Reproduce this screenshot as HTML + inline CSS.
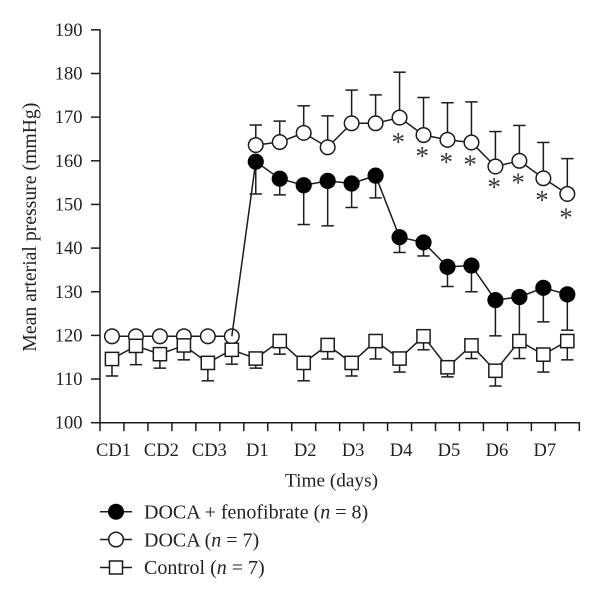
<!DOCTYPE html>
<html>
<head>
<meta charset="utf-8">
<title>Mean arterial pressure chart</title>
<style>
html,body{margin:0;padding:0;background:#fff;}
svg{display:block;font-family:"Liberation Serif",serif;}
text{fill:#222;}
</style>
</head>
<body>
<svg id="chart" width="600" height="611" viewBox="0 0 600 611" xmlns="http://www.w3.org/2000/svg">
  <rect x="0" y="0" width="600" height="611" fill="#fff"/>
  <g id="axes"></g>
  <g id="marks"></g>
  <text x="36" y="227.2" transform="rotate(-90 36 227.2)" text-anchor="middle" font-size="19.7" textLength="249" lengthAdjust="spacingAndGlyphs">Mean arterial pressure (mmHg)</text>
  <text x="331.5" y="486.3" text-anchor="middle" font-size="19" textLength="93" lengthAdjust="spacingAndGlyphs">Time (days)</text>
  <g>
    <g>
      <line x1="100" y1="511.7" x2="132" y2="511.7" stroke="#1c1c1c" stroke-width="1.5"/>
      <circle cx="116" cy="511.7" r="8" fill="#000"/>
      <text x="144" y="518.3" font-size="20">DOCA + fenofibrate (<tspan font-style="italic">n</tspan> = 8)</text>
    </g>
    <g>
      <line x1="100" y1="539.5" x2="132" y2="539.5" stroke="#1c1c1c" stroke-width="1.5"/>
      <circle cx="116" cy="539.5" r="7.3" fill="#fff" stroke="#1c1c1c" stroke-width="1.5"/>
      <text x="144" y="546.5" font-size="20">DOCA (<tspan font-style="italic">n</tspan> = 7)</text>
    </g>
    <g>
      <line x1="100" y1="567.5" x2="132" y2="567.5" stroke="#1c1c1c" stroke-width="1.5"/>
      <rect x="109.5" y="561" width="13" height="13" fill="#fff" stroke="#1c1c1c" stroke-width="1.5"/>
      <text x="144" y="574" font-size="20">Control (<tspan font-style="italic">n</tspan> = 7)</text>
    </g>
  </g>
</svg>
<script>
var yTickLabels = [100, 110, 120, 130, 140, 150, 160, 170, 180, 190];
var xCategoryLabels = ['CD1', 'CD2', 'CD3', 'D1', 'D2', 'D3', 'D4', 'D5', 'D6', 'D7'];

// Pooled baseline (open circles, conscious-day readings) and treatment-phase series
var baselineValues = [119.8, 119.8, 119.8, 119.8, 119.8, 119.8];
var docaValues = [163.6, 164.3, 166.4, 163.1, 168.6, 168.6, 169.9, 165.9, 164.8, 164.2, 158.7, 160.0, 156.0, 152.4];
var docaUpper = [168.2, 169.1, 172.6, 170.3, 176.2, 175.1, 180.3, 174.5, 173.3, 173.5, 166.7, 168.1, 164.2, 160.5];
var fenoValues = [159.8, 155.9, 154.4, 155.4, 154.8, 156.6, 142.5, 141.3, 135.7, 136.0, 128.1, 128.8, 130.9, 129.4];
var fenoLower = [152.4, 152.2, 145.4, 145.1, 149.3, 151.5, 139.0, 138.2, 131.2, 130.0, 119.9, 119.5, 123.1, 121.2];
var controlValues = [114.6, 117.6, 115.7, 117.7, 113.7, 116.7, 114.7, 118.7, 113.7, 117.8, 113.7, 118.7, 114.7, 119.8, 112.7, 117.7, 111.9, 118.7, 115.6, 118.7];
var controlLower = [110.7, 113.3, 112.5, 114.4, 109.6, 113.4, 112.5, 115.7, 109.6, 114.6, 110.7, 114.6, 111.6, 116.7, 110.5, 114.7, 108.4, 114.7, 111.6, 114.4];
// Level (mmHg) of each significance asterisk, for DOCA readings 7 to 14
var asteriskLevels = [165.2, 161.9, 160.6, 160.0, 154.8, 155.9, 151.9, 147.9];

var NS = 'http://www.w3.org/2000/svg';
var INK = '#1c1c1c';
var axes = document.getElementById('axes');
var marks = document.getElementById('marks');

function xScale(i) { return 100 + (i + 0.5) * 23.965; }
function xEdge(i) { return 100 + i * 23.965; }
function yScale(v) { return 422.7 - (v - 100) * 4.365; }

function make(tag, attrs, parent) {
  var el = document.createElementNS(NS, tag);
  for (var k in attrs) { el.setAttribute(k, attrs[k]); }
  parent.appendChild(el);
  return el;
}
function seg(x1, y1, x2, y2, w, parent) {
  return make('line', { x1: x1, y1: y1, x2: x2, y2: y2, stroke: INK, 'stroke-width': w }, parent);
}

// Axes
var yAxis = seg(100, yScale(100) + 0.7, 100, yScale(190) - 0.7, 1.5, axes);


var xAxis = seg(100, yScale(100), xEdge(20) + 0.7, yScale(100), 1.5, axes);



yTickLabels.forEach(function (v) {
  var t = seg(91, yScale(v), 100, yScale(v), 1.5, axes);
  
  
  var l = make('text', { x: 82.5, y: yScale(v) + 6, 'text-anchor': 'end', 'font-size': 18.5 }, axes);
  l.textContent = v;
  
  
});
for (var e = 0; e <= 20; e++) {
  var xt = seg(xEdge(e), yScale(100), xEdge(e), yScale(100) + 8.5, 1.5, axes);
  
  
}
xCategoryLabels.forEach(function (c, i) {
  var l = make('text', { x: xScale(i * 2) + 1.5, y: 456, 'text-anchor': 'middle', 'font-size': 18.5 }, axes);
  l.textContent = c;
  
  
});

function polyline(points, parent) {
  return make('polyline', { points: points.join(' '), fill: 'none', stroke: INK, 'stroke-width': 1.5, 'stroke-linejoin': 'round' }, parent);
}
function errorBar(x, yFrom, yTo, parent) {
  var g = make('g', {}, parent);
  seg(x, yFrom, x, yTo, 1.5, g);
  seg(x - 6.2, yTo, x + 6.2, yTo, 1.5, g);
  return g;
}
function circle(x, y, filled, parent) {
  return make('circle', filled
    ? { cx: x, cy: y, r: 8.1, fill: '#000' }
    : { cx: x, cy: y, r: 7.3, fill: '#fff', stroke: INK, 'stroke-width': 1.5 }, parent);
}

// DOCA and baseline (open circles)
var docaGroup = make('g', {}, marks);


var baseOffset = baselineValues.length;
var basePts = baselineValues.map(function (v, i) { return xScale(i) + ',' + yScale(v); });
var baseLine = polyline(basePts, docaGroup);


var docaPts = docaValues.map(function (v, i) { return xScale(i + baseOffset) + ',' + yScale(v); });
var docaLine = polyline(docaPts, docaGroup);


docaUpper.forEach(function (v, i) {
  var b = errorBar(xScale(i + baseOffset), yScale(docaValues[i]), yScale(v), docaGroup);
  
  
});
baselineValues.forEach(function (v, i) {
  var p = circle(xScale(i), yScale(v), false, docaGroup);
  
  
});
docaValues.forEach(function (v, i) {
  var p = circle(xScale(i + baseOffset), yScale(v), false, docaGroup);
  
  
});

// Asterisks
asteriskLevels.forEach(function (v, i) {
  var s = make('text', { x: xScale(i + baseOffset + 6) - 1.3, y: yScale(v) + 12.7, 'text-anchor': 'middle', 'font-size': 27, style: 'fill:#3a3a3a' }, marks);
  s.textContent = '*';
  
  
});

// DOCA + fenofibrate (filled circles)
var fenoGroup = make('g', {}, marks);


var fenoPts = [xScale(baseOffset - 1) + ',' + yScale(baselineValues[baseOffset - 1])].concat(
  fenoValues.map(function (v, i) { return xScale(i + baseOffset) + ',' + yScale(v); }));
var fenoLine = polyline(fenoPts, fenoGroup);


fenoLower.forEach(function (v, i) {
  var b = errorBar(xScale(i + baseOffset), yScale(fenoValues[i]), yScale(v), fenoGroup);
  
  
});
fenoValues.forEach(function (v, i) {
  var p = circle(xScale(i + baseOffset), yScale(v), true, fenoGroup);
  
  
});

// Control (open squares)
var ctrlGroup = make('g', {}, marks);


var ctrlLine = polyline(controlValues.map(function (v, i) { return xScale(i) + ',' + yScale(v); }), ctrlGroup);


controlLower.forEach(function (v, i) {
  var b = errorBar(xScale(i), yScale(controlValues[i]), yScale(v), ctrlGroup);
  
  
});
controlValues.forEach(function (v, i) {
  var r = make('rect', { x: xScale(i) - 6.6, y: yScale(v) - 6.6, width: 13.2, height: 13.2, fill: '#fff', stroke: INK, 'stroke-width': 1.5 }, ctrlGroup);
  
  
});
</script>
</body>
</html>
